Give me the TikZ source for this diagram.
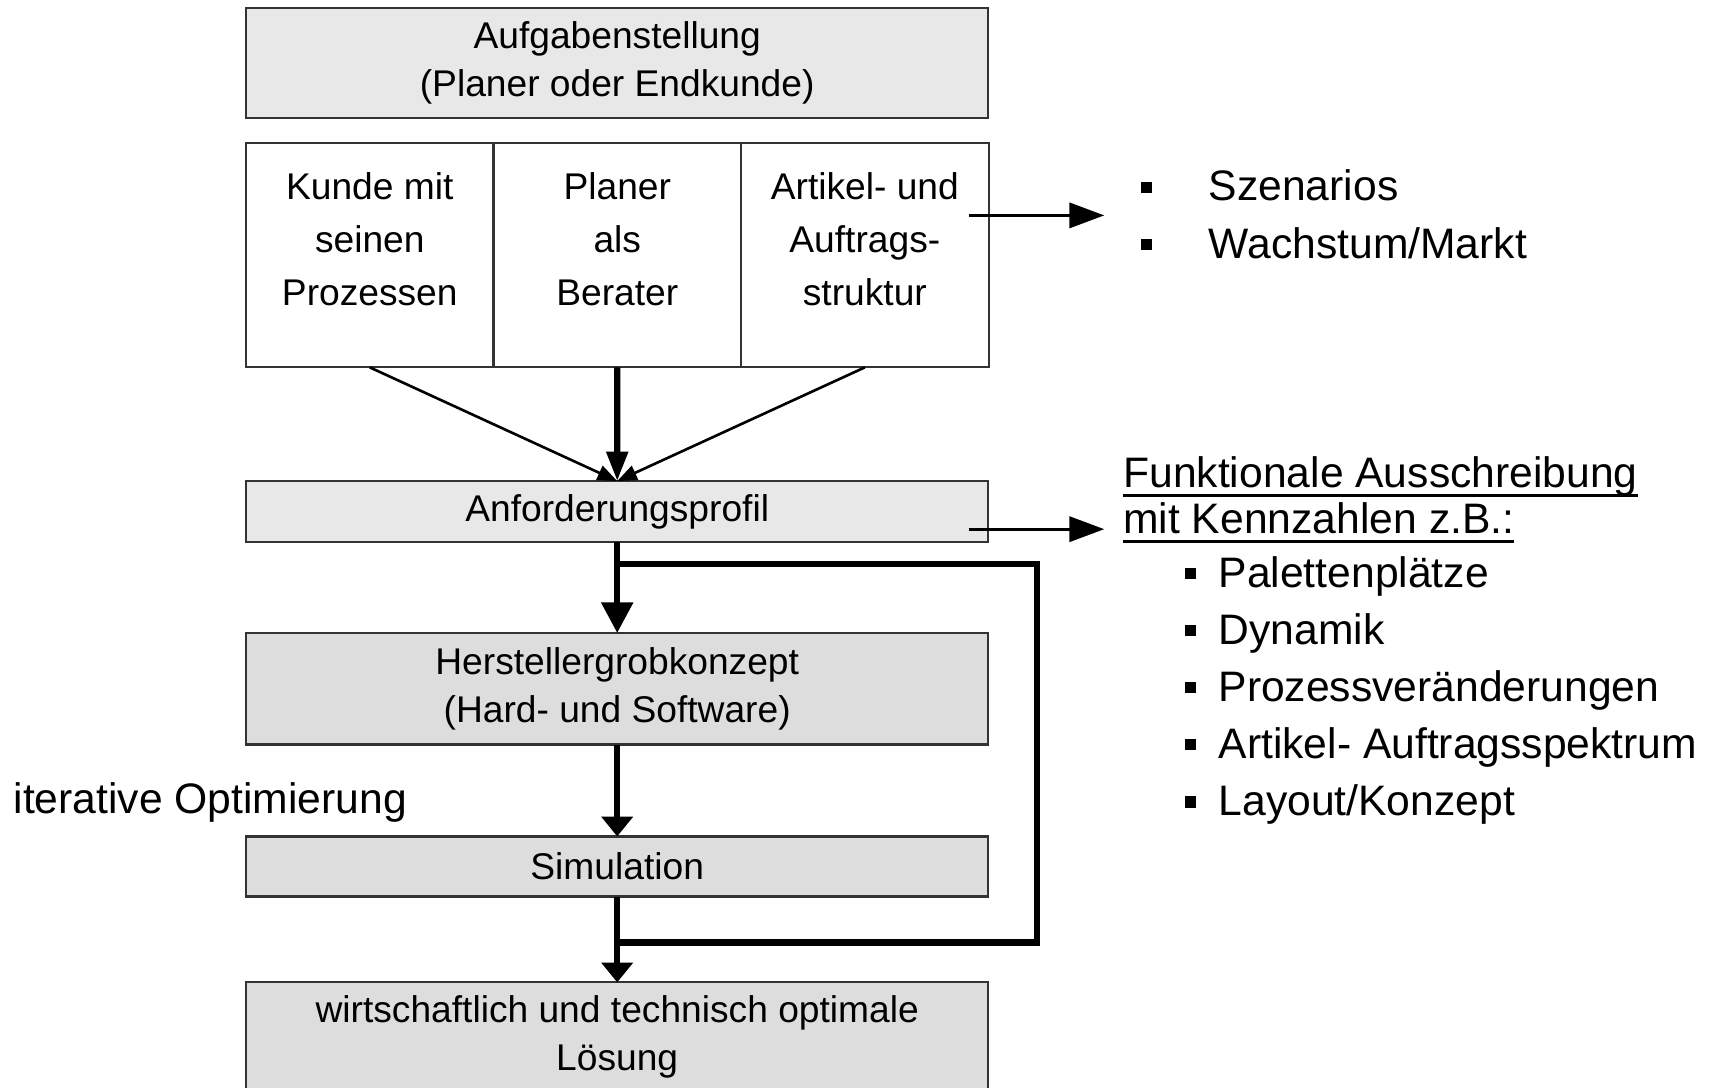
\documentclass[tikz,border=0pt]{standalone}
\usepackage{fontspec}
\setmainfont{Liberation Sans}
\usetikzlibrary{arrows.meta,%
                positioning}

\newcommand{\sqbullet}{\rule[0.19em]{0.26em}{0.26em}}
\newcommand{\ulined}[1]{\setbox0\hbox{#1}\rlap{\rule[-4.6pt]{\wd0}{1.3pt}}\box0}

\tikzset{
  box/.style={draw=black!80, line width=1pt, outer sep=0pt, inner sep=0pt,
    minimum width=339.5pt, align=center, font=\fontsize{17}{22}\selectfont},
  lightbox/.style={box, fill=gray!18},
  darkbox/.style={box, fill=gray!27},
  cell/.style={draw=black!80, line width=1pt, outer sep=0pt, fill=white,
    minimum width=113.2pt, minimum height=102.5pt},
  celltext/.style={align=center, inner sep=0pt, font=\fontsize{17}{24.25}\selectfont},
  bigtext/.style={align=left, inner sep=0pt, anchor=west, font=\fontsize{19.5}{26.1}\selectfont},
  thinarrow/.style={line width=1.2pt, -{Triangle[length=9pt,width=7pt]}},
  midarrow/.style={line width=2.8pt, -{Triangle[length=13.5pt,width=9.5pt]}},
  sidearrow/.style={line width=1.5pt, -{Triangle[length=16pt,width=11.5pt]}},
  mainarrow/.style={line width=3pt, -{Triangle[length=9pt,width=14pt]}},
  longarrow/.style={line width=3pt, -{Triangle[length=14pt,width=14pt]}},
  loopline/.style={line width=3pt}
}

\begin{document}
\begin{tikzpicture}[x=0.5pt,y=-0.5pt]
\useasboundingbox (0,0) rectangle (1564,995);
% boxes
\node[lightbox, minimum height=50.5pt] (aufgabe) at (564.5,57.5) {Aufgabenstellung\\(Planer oder Endkunde)};
\node[cell] (kunde) at (338.2,233.5) {};
\node[cell, right=0pt of kunde] (planer) {};
\node[cell, right=0pt of planer] (artikel) {};
\node[celltext] (kundetext) at ([yshift=7.25pt]kunde.center) {Kunde mit\\seinen\\Prozessen};
\node[celltext] (planertext) at ([yshift=7.25pt]planer.center) {Planer\\als\\Berater};
\node[celltext] (artikeltext) at ([yshift=7.25pt]artikel.center) {Artikel- und\\Auftrags-\\struktur};
\node[lightbox, minimum height=28pt] (profil) at (564.5,468) {Anforderungsprofil};
\node[darkbox, minimum height=51pt] (hersteller) at (564.5,630) {Herstellergrobkonzept\\(Hard- und Software)};
\node[darkbox, minimum height=27.5pt] (simulation) at (564.5,792.5) {Simulation};
\node[darkbox, minimum height=50pt] (loesung) at (564.5,948.5) {wirtschaftlich und technisch optimale\\Lösung};
% texts
\node[bigtext] (szenarien) at (1043,196) {\sqbullet\hspace{26pt}Szenarios\\\sqbullet\hspace{26pt}Wachstum/Markt};
\node[bigtext, font={\fontsize{19.5}{21}\selectfont\lineskiplimit=-10pt}] (ausschreibung) at (1027,457) {\ulined{Funktionale Ausschreibung}\\\ulined{mit Kennzahlen z.B.:}};
\node[bigtext] (kennzahlen) at (1083,631.5) {\sqbullet\hspace{10.5pt}Palettenplätze\\\sqbullet\hspace{10.5pt}Dynamik\\\sqbullet\hspace{10.5pt}Prozessveränderungen\\\sqbullet\hspace{10.5pt}Artikel- Auftragsspektrum\\\sqbullet\hspace{10.5pt}Layout/Konzept};
\node[bigtext] (iterativ) at (12,734) {iterative Optimierung};
% arrows
\draw[thinarrow] (kunde.south) -- (profil.north);
\draw[midarrow] (planer.south) -- (profil.north);
\draw[thinarrow] (artikel.south) -- (profil.north);
\coordinate (szenstart) at (886,197);
\coordinate (szenend) at (1010,197);
\draw[sidearrow] (szenstart) -- (szenend);
\coordinate (profstart) at (886,484);
\coordinate (profend) at (1010,484);
\draw[sidearrow] (profstart) -- (profend);
\draw[longarrow] (profil.south) -- (hersteller.north);
\draw[mainarrow] (hersteller.south) -- (simulation.north);
\draw[mainarrow] (simulation.south) -- (loesung.north);
\coordinate (loopstart) at (564.5,516);
\coordinate (loopend) at (564.5,862);
\draw[loopline] (loopstart) -- ++(384,0) |- (loopend);
\end{tikzpicture}
\end{document}
